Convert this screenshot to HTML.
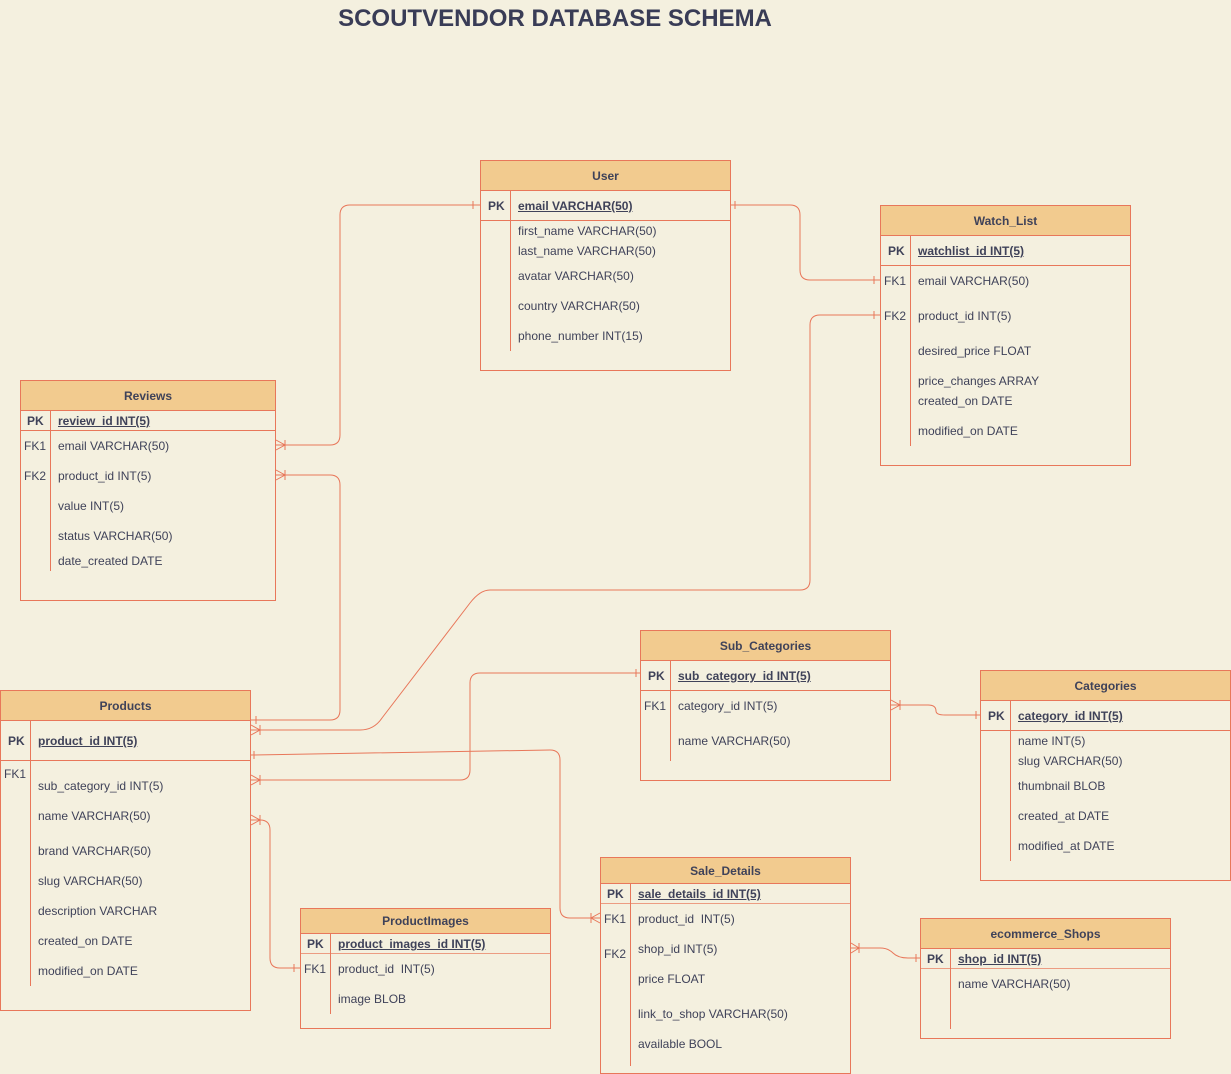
<!DOCTYPE html>
<html><head><meta charset="utf-8"><style>
body{margin:0;background:#f4f0df;}
#c{position:relative;width:1231px;height:1074px;overflow:hidden;background:#f4f0df;font-family:"Liberation Sans",sans-serif;color:#3f4259;font-size:12px;}
.t{position:absolute;border:1px solid #e8775a;box-sizing:border-box;}
.h{position:absolute;left:0;right:0;top:0;background:#f2cb8f;border-bottom:1px solid #e8775a;font-weight:bold;text-align:center;box-sizing:border-box;}
.l{position:absolute;white-space:nowrap;}
.u{text-decoration:underline;font-weight:bold;}
.k{position:absolute;width:1px;background:#e8775a;}
.d{position:absolute;left:0;right:0;height:1px;background:#e8775a;}
svg{position:absolute;left:0;top:0;}
</style></head><body><div id="c">
<div class="l" style="left:0;width:1110px;text-align:center;top:5px;font-size:24px;font-weight:bold;color:#393c56;">SCOUTVENDOR DATABASE SCHEMA</div>

<!-- User -->
<div class="t" style="left:480px;top:160px;width:251px;height:211px;">
<div class="h" style="height:30px;line-height:30px;">User</div>
<div class="d" style="top:59px"></div><div class="k" style="left:29px;top:30px;height:160px"></div>
<div class="l" style="left:7px;top:38px;font-weight:bold">PK</div>
<div class="l u" style="left:37px;top:38px">email VARCHAR(50)</div>
<div class="l" style="left:37px;top:63px">first_name VARCHAR(50)</div>
<div class="l" style="left:37px;top:83px">last_name VARCHAR(50)</div>
<div class="l" style="left:37px;top:108px">avatar VARCHAR(50)</div>
<div class="l" style="left:37px;top:138px">country VARCHAR(50)</div>
<div class="l" style="left:37px;top:168px">phone_number INT(15)</div>
</div>

<!-- Watch_List -->
<div class="t" style="left:880px;top:205px;width:251px;height:261px;">
<div class="h" style="height:30px;line-height:30px;">Watch_List</div>
<div class="d" style="top:59px"></div><div class="k" style="left:29px;top:30px;height:210px"></div>
<div class="l" style="left:7px;top:38px;font-weight:bold">PK</div>
<div class="l u" style="left:37px;top:38px">watchlist_id INT(5)</div>
<div class="l" style="left:3px;top:68px">FK1</div><div class="l" style="left:37px;top:68px">email VARCHAR(50)</div>
<div class="l" style="left:3px;top:103px">FK2</div><div class="l" style="left:37px;top:103px">product_id INT(5)</div>
<div class="l" style="left:37px;top:138px">desired_price FLOAT</div>
<div class="l" style="left:37px;top:168px">price_changes ARRAY</div>
<div class="l" style="left:37px;top:188px">created_on DATE</div>
<div class="l" style="left:37px;top:218px">modified_on DATE</div>
</div>

<!-- Reviews -->
<div class="t" style="left:20px;top:380px;width:256px;height:221px;">
<div class="h" style="height:30px;line-height:30px;">Reviews</div>
<div class="d" style="top:49px"></div><div class="k" style="left:29px;top:30px;height:160px"></div>
<div class="l" style="left:6px;top:33px;font-weight:bold">PK</div>
<div class="l u" style="left:37px;top:33px">review_id INT(5)</div>
<div class="l" style="left:3px;top:58px">FK1</div><div class="l" style="left:37px;top:58px">email VARCHAR(50)</div>
<div class="l" style="left:3px;top:88px">FK2</div><div class="l" style="left:37px;top:88px">product_id INT(5)</div>
<div class="l" style="left:37px;top:118px">value INT(5)</div>
<div class="l" style="left:37px;top:148px">status VARCHAR(50)</div>
<div class="l" style="left:37px;top:173px">date_created DATE</div>
</div>

<!-- Products -->
<div class="t" style="left:0;top:690px;width:251px;height:321px;">
<div class="h" style="height:30px;line-height:30px;">Products</div>
<div class="d" style="top:69px"></div><div class="k" style="left:29px;top:30px;height:265px"></div>
<div class="l" style="left:7px;top:43px;font-weight:bold">PK</div>
<div class="l u" style="left:37px;top:43px">product_id INT(5)</div>
<div class="l" style="left:3px;top:76px">FK1</div>
<div class="l" style="left:37px;top:88px">sub_category_id INT(5)</div>
<div class="l" style="left:37px;top:118px">name VARCHAR(50)</div>
<div class="l" style="left:37px;top:153px">brand VARCHAR(50)</div>
<div class="l" style="left:37px;top:183px">slug VARCHAR(50)</div>
<div class="l" style="left:37px;top:213px">description VARCHAR</div>
<div class="l" style="left:37px;top:243px">created_on DATE</div>
<div class="l" style="left:37px;top:273px">modified_on DATE</div>
</div>

<!-- Sub_Categories -->
<div class="t" style="left:640px;top:630px;width:251px;height:151px;">
<div class="h" style="height:30px;line-height:30px;">Sub_Categories</div>
<div class="d" style="top:59px"></div><div class="k" style="left:29px;top:30px;height:100px"></div>
<div class="l" style="left:7px;top:38px;font-weight:bold">PK</div>
<div class="l u" style="left:37px;top:38px">sub_category_id INT(5)</div>
<div class="l" style="left:3px;top:68px">FK1</div><div class="l" style="left:37px;top:68px">category_id INT(5)</div>
<div class="l" style="left:37px;top:103px">name VARCHAR(50)</div>
</div>

<!-- Categories -->
<div class="t" style="left:980px;top:670px;width:251px;height:211px;">
<div class="h" style="height:30px;line-height:30px;">Categories</div>
<div class="d" style="top:59px"></div><div class="k" style="left:29px;top:30px;height:160px"></div>
<div class="l" style="left:7px;top:38px;font-weight:bold">PK</div>
<div class="l u" style="left:37px;top:38px">category_id INT(5)</div>
<div class="l" style="left:37px;top:63px">name INT(5)</div>
<div class="l" style="left:37px;top:83px">slug VARCHAR(50)</div>
<div class="l" style="left:37px;top:108px">thumbnail BLOB</div>
<div class="l" style="left:37px;top:138px">created_at DATE</div>
<div class="l" style="left:37px;top:168px">modified_at DATE</div>
</div>

<!-- Sale_Details -->
<div class="t" style="left:600px;top:857px;width:251px;height:217px;">
<div class="h" style="height:26px;line-height:26px;">Sale_Details</div>
<div class="d" style="top:45px;opacity:.7"></div><div class="k" style="left:29px;top:26px;height:182px"></div>
<div class="l" style="left:6px;top:29px;font-weight:bold">PK</div>
<div class="l u" style="left:37px;top:29px">sale_details_id INT(5)</div>
<div class="l" style="left:3px;top:54px">FK1</div><div class="l" style="left:37px;top:54px">product_id&nbsp; INT(5)</div>
<div class="l" style="left:3px;top:89px">FK2</div><div class="l" style="left:37px;top:84px">shop_id INT(5)</div>
<div class="l" style="left:37px;top:114px">price FLOAT</div>
<div class="l" style="left:37px;top:149px">link_to_shop VARCHAR(50)</div>
<div class="l" style="left:37px;top:179px">available BOOL</div>
</div>

<!-- ProductImages -->
<div class="t" style="left:300px;top:908px;width:251px;height:121px;">
<div class="h" style="height:25px;line-height:25px;">ProductImages</div>
<div class="d" style="top:44px;opacity:.7"></div><div class="k" style="left:29px;top:25px;height:80px"></div>
<div class="l" style="left:6px;top:28px;font-weight:bold">PK</div>
<div class="l u" style="left:37px;top:28px">product_images_id INT(5)</div>
<div class="l" style="left:3px;top:53px">FK1</div><div class="l" style="left:37px;top:53px">product_id&nbsp; INT(5)</div>
<div class="l" style="left:37px;top:83px">image BLOB</div>
</div>

<!-- ecommerce_Shops -->
<div class="t" style="left:920px;top:918px;width:251px;height:121px;">
<div class="h" style="height:30px;line-height:30px;">ecommerce_Shops</div>
<div class="d" style="top:49px;opacity:.7"></div><div class="k" style="left:29px;top:30px;height:80px"></div>
<div class="l" style="left:6px;top:33px;font-weight:bold">PK</div>
<div class="l u" style="left:37px;top:33px">shop_id INT(5)</div>
<div class="l" style="left:37px;top:58px">name VARCHAR(50)</div>
</div>

<svg width="1231" height="1074" fill="none" stroke="#e8775a" stroke-width="1">
<path d="M480,205 H350 Q340,205 340,215 V435 Q340,445 330,445 H276"/>
<path d="M473,201 V209 M276,440 L285,445 L276,450 M285,440 V450"/>
<path d="M731,205 H790 Q800,205 800,215 V270 Q800,280 810,280 H880"/>
<path d="M735,201 V209 M874,276 V284"/>
<path d="M880,315 H820 Q810,315 810,325 V580 Q810,590 800,590 H490 Q480,590 470,603 L382,718 Q374,730 360,730 H251"/>
<path d="M874,311 V319 M251,725 L260,730 L251,735 M260,725 V735"/>
<path d="M276,475 H330 Q340,475 340,485 V710 Q340,720 330,720 H251"/>
<path d="M276,470 L285,475 L276,480 M285,470 V480 M256,716 V724"/>
<path d="M640,673 H480 Q470,673 470,683 V770 Q470,780 460,780 H251"/>
<path d="M636,669 V677 M251,775 L260,780 L251,785 M260,775 V785"/>
<path d="M251,755 L550,750 Q560,750 560,760 V908 Q560,918 570,918 H600"/>
<path d="M254,751 V759 M600,913 L591,918 L600,923 M591,913 V923"/>
<path d="M891,705 H928 Q936,705 936,711 Q936,715 945,715 H980"/>
<path d="M891,700 L900,705 L891,710 M900,700 V710 M976,711 V719"/>
<path d="M251,820 H260 Q270,820 270,830 V958 Q270,968 280,968 H300"/>
<path d="M251,815 L260,820 L251,825 M260,815 V825 M294,964 V972"/>
<path d="M851,948 H880 Q888,948 893,953 Q898,958 908,958 H920"/>
<path d="M851,943 L859,948 L851,953 M859,943 V953 M916,954 V962"/>
</svg>
</div></body></html>
